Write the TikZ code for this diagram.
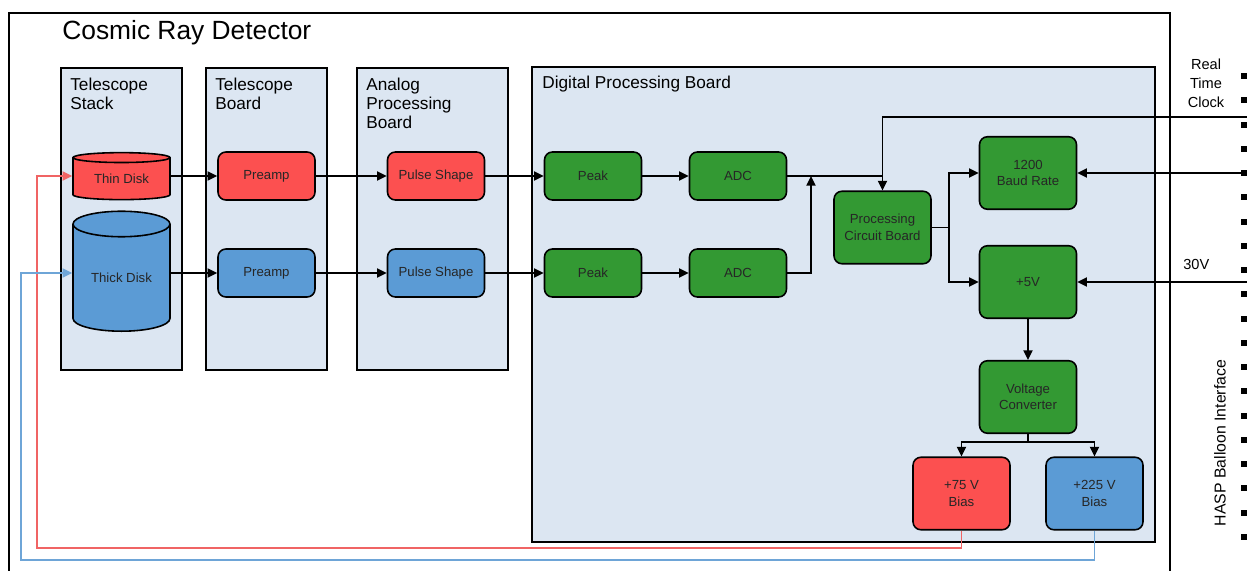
\documentclass[tikz,border=0pt]{standalone}
\usepackage{fontspec}
\setmainfont{Liberation Sans}
\usetikzlibrary{arrows.meta,shapes.geometric,positioning}

\definecolor{panelblue}{RGB}{220,230,242}
\definecolor{boxred}{RGB}{252,80,80}
\definecolor{boxblue}{RGB}{91,155,213}
\definecolor{boxgreen}{RGB}{51,153,51}
\definecolor{wirered}{RGB}{240,100,100}
\definecolor{wireblue}{RGB}{110,165,215}

\tikzset{
  panel/.style={draw, line width=1pt, fill=panelblue},
  paneltext/.style={anchor=north west, inner sep=0pt, align=left, font=\fontsize{9.8}{10.8}\selectfont},
  blk/.style={draw, line width=0.9pt, rounded corners=4.5pt, minimum width=1.94cm, minimum height=0.96cm,
    inner sep=1pt, align=center, text=black!85, font=\fontsize{7.5}{9.4}\selectfont},
  tallblk/.style={blk, minimum height=1.45cm},
  disk/.style={draw, line width=0.9pt, cylinder, shape border rotate=90, inner sep=0pt,
    text=black!85, font=\fontsize{7.5}{9.4}\selectfont},
  wire/.style={line width=0.85pt, -{Triangle[length=5.5pt,width=5.2pt]}},
  line/.style={line width=0.85pt}
}

\begin{document}
\begin{tikzpicture}[x=0.02cm, y=-0.02cm]
\useasboundingbox (0,0) rectangle (1247,571);

% outer frame
\draw[line width=1.3pt] (9,580) -- (9,13) -- (1170,13) -- (1170,580);
\node[anchor=west, inner sep=0pt, font=\fontsize{15}{18}\selectfont] (title) at (62,33) {Cosmic Ray Detector};

% panels
\draw[panel] (61,68) rectangle (182,370);
\draw[panel] (206,68) rectangle (327,370);
\draw[panel] (357,68) rectangle (508,370);
\draw[panel] (532,67) rectangle (1155,542);
\node[paneltext] (stacklbl) at (70,78) {Telescope\\Stack};
\node[paneltext] (boardlbl) at (215,78) {Telescope\\Board};
\node[paneltext] (analoglbl) at (366,78) {Analog\\Processing\\Board};
\node[paneltext] (digitallbl) at (542,76) {Digital Processing Board};

% disks
\node[disk, fill=boxred, minimum width=1.94cm, minimum height=0.94cm, aspect=0.18] (thin) at (121.5,179) {Thin Disk};
\node[disk, fill=boxblue, minimum width=1.94cm, minimum height=2.4cm, aspect=0.42] (thick) at (121.5,278) {Thick Disk};

% signal chain
\node[blk, fill=boxred] (preampA) at (266.5,176) {Preamp};
\node[blk, fill=boxblue] (preampB) at (266.5,273) {Preamp};
\node[blk, fill=boxred] (shapeA) at (436,176) {Pulse Shape};
\node[blk, fill=boxblue] (shapeB) at (436,273) {Pulse Shape};
\node[blk, fill=boxgreen] (peakA) at (593,176) {Peak};
\node[blk, fill=boxgreen] (peakB) at (593,273) {Peak};
\node[blk, fill=boxgreen] (adcA) at (738,176) {ADC};
\node[blk, fill=boxgreen] (adcB) at (738,273) {ADC};

% processing and power
\node[tallblk, fill=boxgreen] (pcb) at (882.5,227.5) {Processing\\Circuit Board};
\node[tallblk, fill=boxgreen] (baud) at (1028,173) {1200\\Baud Rate};
\node[tallblk, fill=boxgreen] (five) at (1028,282) {+5V};
\node[tallblk, fill=boxgreen] (conv) at (1028,397) {Voltage\\Converter};
\node[tallblk, fill=boxred] (biasA) at (961.5,493.5) {+75 V\\Bias};
\node[tallblk, fill=boxblue] (biasB) at (1094.5,493.5) {+225 V\\Bias};

% connectors
\draw[wire] (thin.east |- preampA) -- (preampA.west);
\draw[wire] (thick.east |- preampB) -- (preampB.west);
\draw[wire] (preampA) -- (shapeA);
\draw[wire] (preampB) -- (shapeB);
\draw[wire] (shapeA) -- (peakA);
\draw[wire] (shapeB) -- (peakB);
\draw[wire] (peakA) -- (adcA);
\draw[wire] (peakB) -- (adcB);

\coordinate (rtc) at (1247,117);
\coordinate (join) at (811,176);
\draw[wire] (rtc) -| (pcb.north);
\draw[line] (adcA.east) -- (adcA.east -| pcb.north);
\draw[wire] (adcB.east) -| (join);

\coordinate (split) at (949,227.5);
\draw[line] (pcb.east) -- (split);
\draw[wire] (split) |- (baud.west);
\draw[wire] (split) |- (five.west);

\coordinate (baudin) at (1247,173);
\coordinate (voltin) at (1247,282);
\draw[wire] (baudin) -- (baud.east);
\draw[wire] (voltin) -- (five.east);

\draw[wire] (five) -- (conv);
\coordinate (csplit) at (1028,442);
\draw[line] (conv.south) -- (csplit);
\draw[wire] (csplit) -| (biasA.north);
\draw[wire] (csplit) -| (biasB.north);

% bias feeds back to the disks
\coordinate (redlow) at (37,548);
\coordinate (bluelow) at (21,560);
\draw[wire, wirered] (biasA.south) |- (redlow) |- (thin.west |- preampA);
\draw[wire, wireblue] (biasB.south) |- (bluelow) |- (thick.west |- preampB);

% HASP interface
\foreach \i in {0,...,19}
  \fill (1241,{73+24.26*\i}) rectangle ++(7,6);
\node[anchor=north, inner sep=0pt, align=center, font=\fontsize{8.3}{10.8}\selectfont] (rtclbl) at (1206,59) {Real\\Time\\Clock};
\node[anchor=west, inner sep=0pt, font=\fontsize{8.3}{10}\selectfont] (voltlbl) at (1183,264) {30V};
\node[rotate=90, inner sep=0pt, font=\fontsize{9}{10}\selectfont] (hasplbl) at (1220,443) {HASP Balloon Interface};
\end{tikzpicture}
\end{document}
